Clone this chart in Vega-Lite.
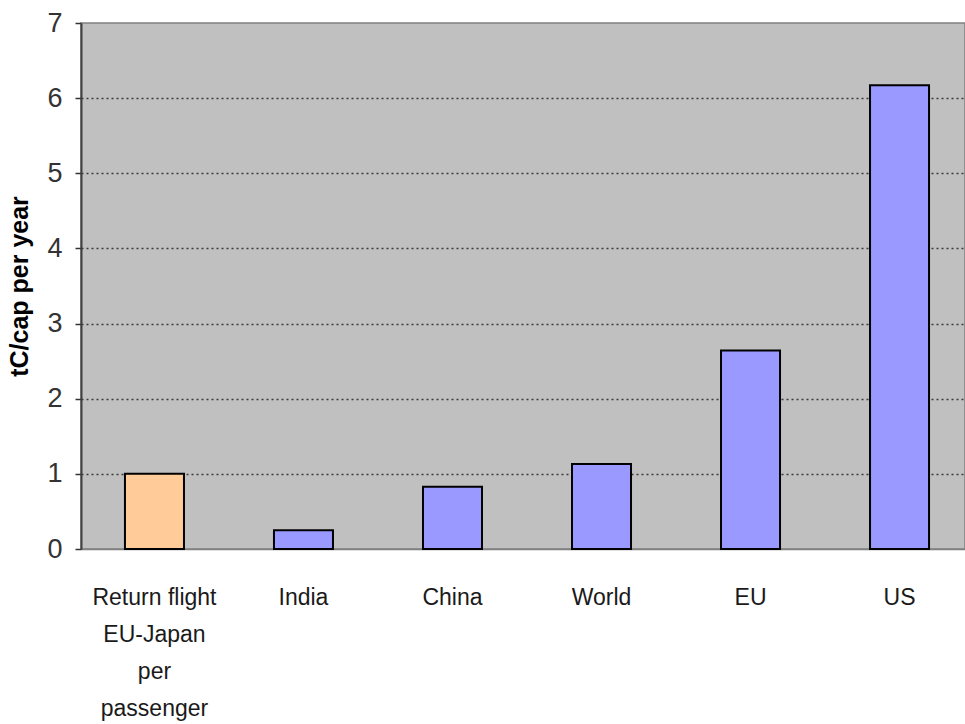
{
  "$schema": "https://vega.github.io/schema/vega-lite/v6.json",
  "width": 884,
  "height": 526,
  "autosize": {"type": "none"},
  "padding": {"left": 81, "top": 23, "right": 0, "bottom": 175},
  "background": "#ffffff",
  "config": {
    "view": {"fill": "#c0c0c0", "stroke": "#808080", "strokeWidth": 1.5},
    "font": "Liberation Sans"
  },
  "data": {
    "values": [
      {"country": "Return flight EU-Japan per passenger", "kind": "flight", "tc": 1.0},
      {"country": "India", "kind": "country", "tc": 0.25},
      {"country": "China", "kind": "country", "tc": 0.83},
      {"country": "World", "kind": "country", "tc": 1.13},
      {"country": "EU", "kind": "country", "tc": 2.64},
      {"country": "US", "kind": "country", "tc": 6.17}
    ]
  },
  "mark": {"type": "bar", "stroke": "#000000", "strokeWidth": 2},
  "encoding": {
    "x": {
      "field": "country",
      "type": "nominal",
      "sort": null,
      "scale": {"range": [0, 892], "paddingInner": 0.604, "paddingOuter": 0.295},
      "axis": {
        "title": null,
        "labelAngle": 0,
        "ticks": false,
        "domainColor": "#808080",
        "domainWidth": 1.5,
        "labelFont": "Liberation Sans",
        "labelFontSize": 23,
        "labelColor": "#1a1a1a",
        "labelPadding": 37,
        "labelLineHeight": 37,
        "labelLimit": 0,
        "labelExpr": "datum.label == 'Return flight EU-Japan per passenger' ? ['Return flight', 'EU-Japan', 'per', 'passenger'] : datum.label"
      }
    },
    "y": {
      "field": "tc",
      "type": "quantitative",
      "scale": {"domain": [0, 7], "nice": false},
      "axis": {
        "title": "tC/cap per year",
        "titleFontSize": 25,
        "titleFontWeight": "bold",
        "titleColor": "#000000",
        "titlePadding": 14,
        "values": [0, 1, 2, 3, 4, 5, 6, 7],
        "labelFontSize": 27,
        "labelColor": "#333333",
        "labelPadding": 13,
        "tickSize": 6,
        "tickColor": "#333333",
        "tickWidth": 1.5,
        "domainColor": "#404040",
        "domainWidth": 2,
        "grid": true,
        "gridColor": "#3a3a3a",
        "gridWidth": 1.5,
        "gridDash": [2, 3],
        "gridOpacity": {"condition": {"test": "datum.value == 0 || datum.value == 7", "value": 0}, "value": 1}
      }
    },
    "color": {
      "field": "kind",
      "type": "nominal",
      "scale": {"domain": ["flight", "country"], "range": ["#ffcc99", "#9999ff"]},
      "legend": null
    }
  }
}
